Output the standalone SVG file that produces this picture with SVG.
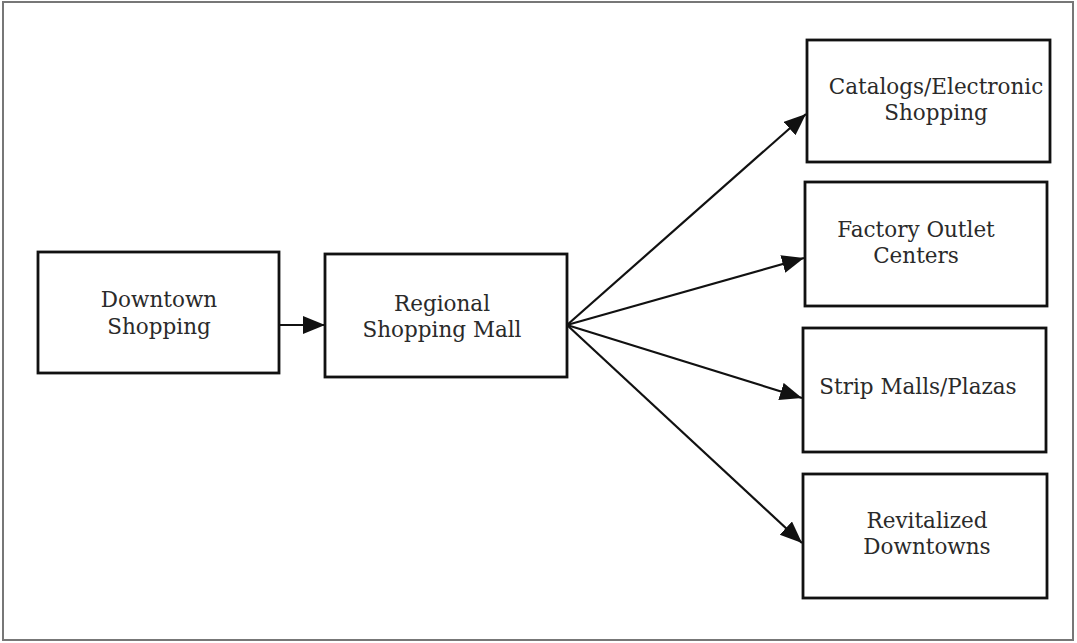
<svg xmlns="http://www.w3.org/2000/svg" width="1077" height="643" viewBox="0 0 1077 643">
<style>
.box{fill:#fff;stroke:#111;stroke-width:2.8}
.lbl{font-family:"DejaVu Serif","Liberation Serif",serif;font-size:21.5px;fill:#2a2a2a;text-anchor:middle}
.con{stroke:#111;stroke-width:2.2;fill:none;marker-end:url(#ah)}
</style>
<defs>
<marker id="ah" markerUnits="userSpaceOnUse" markerWidth="24" markerHeight="20" refX="22" refY="9" orient="auto">
<path d="M0,0 L22,9 L0,18 z" fill="#111"/>
</marker>
</defs>
<rect x="3" y="2" width="1070" height="638" fill="#fff" stroke="#777" stroke-width="2"/>
<g id="connectors">
<line class="con" x1="279" y1="325" x2="325" y2="325"/>
<line class="con" x1="567" y1="325" x2="806" y2="114"/>
<line class="con" x1="567" y1="325" x2="804" y2="258"/>
<line class="con" x1="567" y1="325" x2="802" y2="398"/>
<line class="con" x1="567" y1="325" x2="802" y2="543"/>
</g>
<g id="downtown">
<rect class="box" x="38" y="252" width="241" height="121"/>
<text class="lbl" x="159" y="307">Downtown</text>
<text class="lbl" x="159" y="334">Shopping</text>
</g>
<g id="regional">
<rect class="box" x="325" y="254" width="242" height="123"/>
<text class="lbl" x="442" y="311">Regional</text>
<text class="lbl" x="442" y="337">Shopping Mall</text>
</g>
<g id="catalogs">
<rect class="box" x="807" y="40" width="243" height="122"/>
<text class="lbl" x="936" y="94">Catalogs/Electronic</text>
<text class="lbl" x="936" y="120">Shopping</text>
</g>
<g id="factory">
<rect class="box" x="805" y="182" width="242" height="124"/>
<text class="lbl" x="916" y="237">Factory Outlet</text>
<text class="lbl" x="916" y="263">Centers</text>
</g>
<g id="strip">
<rect class="box" x="803" y="328" width="243" height="124"/>
<text class="lbl" x="918" y="394">Strip Malls/Plazas</text>
</g>
<g id="revitalized">
<rect class="box" x="803" y="474" width="244" height="124"/>
<text class="lbl" x="927" y="528">Revitalized</text>
<text class="lbl" x="927" y="554">Downtowns</text>
</g>
</svg>
